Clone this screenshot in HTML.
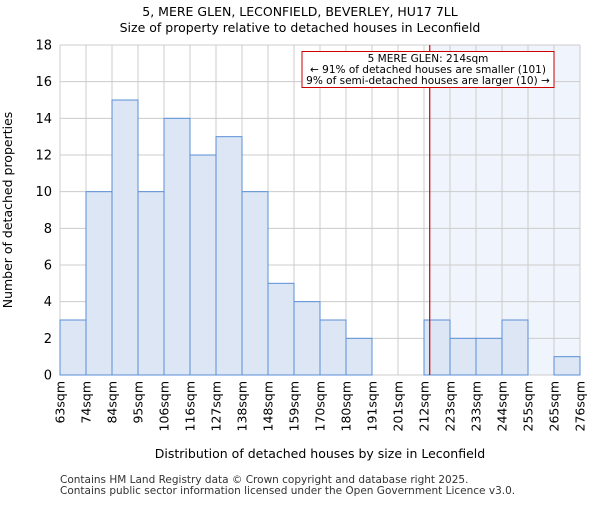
<!DOCTYPE html>
<html><head><meta charset="utf-8"><style>body{margin:0;background:#fff}svg{font-family:"DejaVu Sans","Liberation Sans",sans-serif}</style></head>
<body>
<svg id="c" width="600" height="500"></svg>
<script>
const categories=["63sqm","74sqm","84sqm","95sqm","106sqm","116sqm","127sqm","138sqm","148sqm","159sqm","170sqm","180sqm","191sqm","201sqm","212sqm","223sqm","233sqm","244sqm","255sqm","265sqm","276sqm"];
const counts=[3,10,15,10,14,12,13,10,5,4,3,2,0,0,3,2,2,3,0,1];
const yTicks=[0,2,4,6,8,10,12,14,16,18];
const markerBin=14.22;
const NS="http://www.w3.org/2000/svg",svg=document.getElementById('c');
const L=60,R=580,T=45,B=375,n=counts.length,bw=(R-L)/n;
const x=i=>L+i*bw, y=v=>B-v*(B-T)/18;
function el(t,a,p){const e=document.createElementNS(NS,t);for(const k in a)e.setAttribute(k,a[k]);(p||svg).appendChild(e);return e;}
function tx(s,a){const e=el('text',a);e.textContent=s;return e;}
let g;
g=el('rect',{x:x(markerBin),y:T,width:R-x(markerBin),height:B-T,fill:'#f0f4fd'});

for(let i=0;i<=n;i++){g=el('line',{x1:x(i),x2:x(i),y1:T,y2:B,stroke:'#ccc','stroke-width':1});}
yTicks.forEach(v=>{g=el('line',{x1:L,x2:R,y1:y(v),y2:y(v),stroke:'#ccc','stroke-width':1});
g=tx(v,{x:L-8,y:y(v)+4.5,'text-anchor':'end','font-size':13});});
counts.forEach((c,i)=>{if(!c)return;g=el('rect',{x:x(i),y:y(c),width:bw,height:B-y(c),fill:'#dce6f5',stroke:'#5a8fd6','stroke-width':1});});
categories.forEach((c,i)=>{g=tx(c,{transform:`translate(${x(i)+4.5},${B+6}) rotate(-90)`,'text-anchor':'end','font-size':12.5});});
g=el('line',{x1:x(markerBin),x2:x(markerBin),y1:T,y2:B,stroke:'#c00','stroke-width':1.2});
g=el('rect',{x:302,y:51.5,width:252,height:36,fill:'#fff',stroke:'#c00','stroke-width':1});
[["5 MERE GLEN: 214sqm",62],["← 91% of detached houses are smaller (101)",73],["9% of semi-detached houses are larger (10) →",84]].forEach(a=>{g=tx(a[0],{x:428,y:a[1],'text-anchor':'middle','font-size':10.5});});
g=tx("5, MERE GLEN, LECONFIELD, BEVERLEY, HU17 7LL",{x:300,y:16,'text-anchor':'middle','font-size':12.5});
g=tx("Size of property relative to detached houses in Leconfield",{x:300,y:32,'text-anchor':'middle','font-size':12.5});
g=tx("Distribution of detached houses by size in Leconfield",{x:320,y:458,'text-anchor':'middle','font-size':12.5});
g=tx("Number of detached properties",{transform:'translate(12,210) rotate(-90)','text-anchor':'middle','font-size':12.5});
g=tx("Contains HM Land Registry data © Crown copyright and database right 2025.",{x:60,y:483,'font-size':10.5,fill:'#333'});
g=tx("Contains public sector information licensed under the Open Government Licence v3.0.",{x:60,y:494,'font-size':10.5,fill:'#333'});
</script>
</body></html>
